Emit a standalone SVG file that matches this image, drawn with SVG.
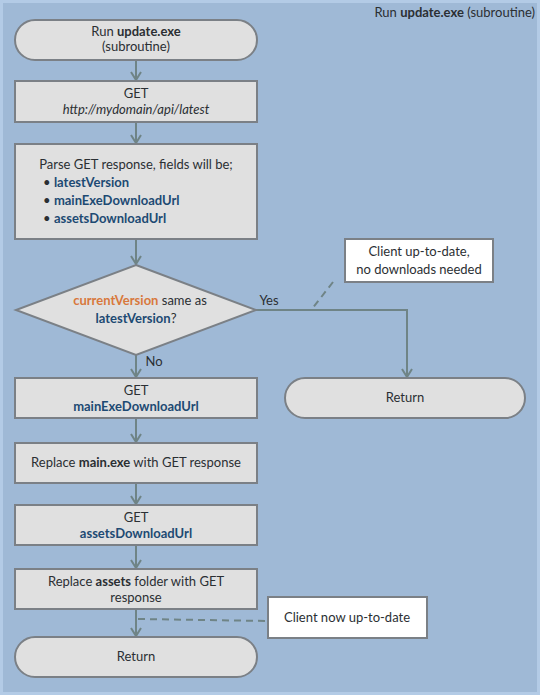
<svg xmlns="http://www.w3.org/2000/svg" width="540" height="695" viewBox="0 0 540 695">
<defs>
<style>
text{font-family:Lato,"Open Sans","Liberation Sans",sans-serif;font-size:13px;fill:#2b2f33;text-anchor:middle}
.b{font-weight:bold}
.blue{fill:#1d4a73;font-weight:bold}
.org{fill:#d8783c;font-weight:bold}
.node{fill:#e0e0e0;stroke:#7b8086;stroke-width:2}
.note{fill:#ffffff;stroke:#7b8086;stroke-width:2}
.conn{fill:none;stroke:#6f8486;stroke-width:2}
.dash{fill:none;stroke:#6f8486;stroke-width:2;stroke-dasharray:7,5}
</style>
<marker id="arr" viewBox="0 0 12 12" refX="11" refY="6" markerWidth="12" markerHeight="12" markerUnits="userSpaceOnUse" orient="auto">
<polyline points="3,1 11,6 3,11" fill="none" stroke="#6f8486" stroke-width="2"/>
</marker>
</defs>
<rect x="0" y="0" width="540" height="695" fill="#b3cbe6"/>
<rect x="3" y="3" width="534" height="689" fill="#9fb9d6"/>
<text x="535" y="17" style="text-anchor:end">Run <tspan class="b">update.exe</tspan> (subroutine)</text>
<g id="connectors">
<line class="conn" x1="136" y1="61" x2="136" y2="80" marker-end="url(#arr)"/>
<line class="conn" x1="136" y1="122" x2="136" y2="143" marker-end="url(#arr)"/>
<line class="conn" x1="136" y1="239" x2="136" y2="264" marker-end="url(#arr)"/>
<line class="conn" x1="136" y1="355" x2="136" y2="377" marker-end="url(#arr)"/>
<line class="conn" x1="136" y1="418" x2="136" y2="442" marker-end="url(#arr)"/>
<line class="conn" x1="136" y1="483" x2="136" y2="504" marker-end="url(#arr)"/>
<line class="conn" x1="136" y1="545" x2="136" y2="568" marker-end="url(#arr)"/>
<line class="conn" x1="136" y1="609" x2="136" y2="636" marker-end="url(#arr)"/>
<polyline class="conn" points="256,310 407,310 407,377" marker-end="url(#arr)"/>
<line class="dash" x1="333" y1="282" x2="312" y2="309"/>
<line class="dash" x1="138" y1="619" x2="268" y2="621"/>
<text x="269" y="305">Yes</text>
<text x="154" y="366">No</text>
</g>
<g id="start">
<rect class="node" x="15" y="20" width="242" height="40" rx="20"/>
<text x="136" y="36">Run <tspan class="b">update.exe</tspan></text>
<text x="136" y="51">(subroutine)</text>
</g>
<g id="get-latest">
<rect class="node" x="15" y="81" width="242" height="41"/>
<text x="136" y="98">GET</text>
<text x="136" y="114" style="font-style:italic">http://mydomain/api/latest</text>
</g>
<g id="parse">
<rect class="node" x="15" y="144" width="242" height="95"/>
<text x="136" y="169">Parse GET response, fields will be;</text>
<text x="43" y="187" style="text-anchor:start">• <tspan class="blue">latestVersion</tspan></text>
<text x="43" y="205" style="text-anchor:start">• <tspan class="blue">mainExeDownloadUrl</tspan></text>
<text x="43" y="223" style="text-anchor:start">• <tspan class="blue">assetsDownloadUrl</tspan></text>
</g>
<g id="decision">
<polygon class="node" points="136,265 256,310 136,355 16,310"/>
<text x="140" y="305"><tspan class="org">currentVersion</tspan> same as</text>
<text x="136" y="323"><tspan class="blue">latestVersion</tspan>?</text>
</g>
<g id="get-main">
<rect class="node" x="15" y="378" width="242" height="40"/>
<text x="136" y="395">GET</text>
<text x="136" y="411" class="blue">mainExeDownloadUrl</text>
</g>
<g id="replace-main">
<rect class="node" x="15" y="443" width="242" height="40"/>
<text x="136" y="467">Replace <tspan class="b">main.exe</tspan> with GET response</text>
</g>
<g id="get-assets">
<rect class="node" x="15" y="505" width="242" height="40"/>
<text x="136" y="522">GET</text>
<text x="136" y="538" class="blue">assetsDownloadUrl</text>
</g>
<g id="replace-assets">
<rect class="node" x="15" y="569" width="242" height="40"/>
<text x="136" y="586">Replace <tspan class="b">assets</tspan> folder with GET</text>
<text x="136" y="602">response</text>
</g>
<g id="return-left">
<rect class="node" x="15" y="637" width="242" height="40" rx="20"/>
<text x="136" y="661">Return</text>
</g>
<g id="return-right">
<rect class="node" x="285" y="378" width="240" height="40" rx="20"/>
<text x="405" y="402">Return</text>
</g>
<g id="note-uptodate">
<rect class="note" x="345" y="239" width="148" height="43"/>
<text x="419" y="256">Client up-to-date,</text>
<text x="419" y="274">no downloads needed</text>
</g>
<g id="note-now">
<rect class="note" x="268" y="597" width="159" height="41"/>
<text x="347" y="622">Client now up-to-date</text>
</g>
</svg>
